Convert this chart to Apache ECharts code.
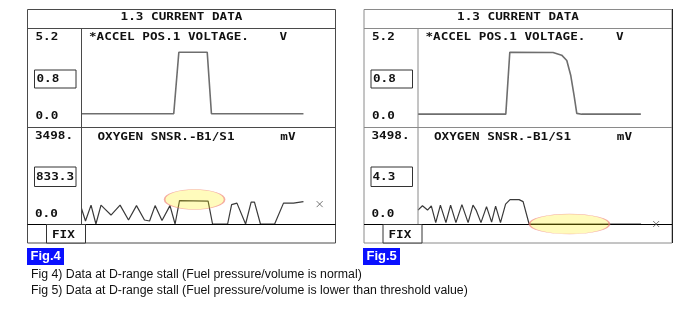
<!DOCTYPE html>
<html>
<head>
<meta charset="utf-8">
<script src="https://cdn.jsdelivr.net/npm/echarts@6/dist/echarts.min.js"></script>
<style>html,body{margin:0;padding:0;background:#fff;}#c{width:700px;height:315px;}</style>
</head>
<body>
<div id="c"></div>
<script>
// ---- data (time index on x, measured value on y) ----
const ACCEL_FIG4 = [[0,0.72],[41.6,0.72],[43.9,3.95],[56.7,3.95],[58.6,0.72],[100.1,0.72]];
const O2_FIG4 = [[0,560],[1.8,108],[4.3,685],[6.5,0],[8.8,685],[10.6,541],[13.3,325],[17.4,685],[21.2,144],[24.8,667],[28.4,144],[30.7,108],[33.2,667],[36.3,126],[39.9,667],[42.2,0],[44.2,847],[57.1,829],[59.1,0],[65.9,0],[67.7,703],[70.1,757],[74.0,0],[76.5,793],[78.0,793],[80.7,0],[87.1,0],[91.1,757],[95.6,757],[100.1,811]];
const ACCEL_FIG5 = [[0,0.70],[39.6,0.70],[41.4,3.95],[60.9,3.94],[64.8,3.80],[67.1,3.52],[68.9,2.73],[70.4,1.68],[71.6,0.74],[73.8,0.70],[100.5,0.70]];
const O2_FIG5 = [[0,505],[2,660],[4.3,505],[6,660],[8,50],[10.1,685],[12.6,50],[14.7,685],[17.1,50],[19.8,703],[22.6,50],[24.8,685],[26.2,505],[28.4,50],[30.9,631],[33.2,70],[35.0,649],[37.2,50],[39.5,721],[41.5,883],[45.6,883],[47.4,811],[50.1,0],[100.6,0]];
const HIGHLIGHT_FIG4 = [[51.0, 891]];
const HIGHLIGHT_FIG5 = [[68.3, 0]];
const CURSOR_FIG4 = [[107.4, 721]];
const CURSOR_FIG5 = [[107.4, 0]];
const ACCEL_RANGE = [0, 5.2];
const O2_RANGE = [0, 3498];
const ACCEL_TICKS = ['5.2', '0.0'];
const O2_TICKS = ['3498.', '0.0'];
const CURRENT_FIG4 = ['0.8', '833.3'];
const CURRENT_FIG5 = ['0.8', '4.3'];
const HEADER = '1.3 CURRENT DATA';
const PARAM1 = '*ACCEL POS.1 VOLTAGE.    V';
const PARAM2 = 'OXYGEN SNSR.-B1/S1      mV';
const FIG_LABELS = ['Fig.4', 'Fig.5'];
const CAPTIONS = ['Fig 4) Data at D-range stall (Fuel pressure/volume is normal)',
                  'Fig 5) Data at D-range stall (Fuel pressure/volume is lower than threshold value)'];

const chart = echarts.init(document.getElementById('c'));
const MONO = 'bold 11px "DejaVu Sans Mono", "Liberation Mono", monospace';
const SX = 1.15;

function mono(text, x, y, align) {
  return {type:'text', x:x, y:y, scaleX:SX, scaleY:0.95, z:10,
    style:{text:text, font:MONO, fill:'#111', textAlign:align||'left', textVerticalAlign:'middle'}};
}
function hline(x1,x2,y,color,w){return {type:'line', z:5, shape:{x1:x1,y1:y,x2:x2,y2:y}, style:{stroke:color,lineWidth:w||1}};}
function vline(x,y1,y2,color,w){return {type:'line', z:5, shape:{x1:x,y1:y1,x2:x,y2:y2}, style:{stroke:color,lineWidth:w||1}};}

function panel(ox, frame, current) {
  const els = [];
  els.push({type:'rect', z:5, shape:{x:27.5+ox, y:9.5, width:308, height:233.5}, style:{fill:'none', stroke:frame, lineWidth:1}});
  els.push(hline(27.5+ox, 335.5+ox, 28.5, frame));
  els.push(hline(27.5+ox, 335.5+ox, 127.5, frame));
  els.push(vline(81.5+ox, 28.5, 224, frame));
  els.push(hline(27.5+ox, 335.5+ox, 224.5, '#000'));
  els.push({type:'rect', z:5, shape:{x:46.5+ox, y:224.5, width:39, height:18.5}, style:{fill:'#fff', stroke:'#333', lineWidth:1}});
  els.push({type:'rect', z:5, shape:{x:34.5+ox, y:70, width:41.5, height:18}, style:{fill:'#fff', stroke:'#333', lineWidth:1}});
  els.push({type:'rect', z:5, shape:{x:34.5+ox, y:167, width:41.5, height:19.5}, style:{fill:'#fff', stroke:'#333', lineWidth:1}});
  els.push(mono(HEADER, 181.5+ox, 17.5, 'center'));
  els.push(mono(PARAM1, 89+ox, 37, 'left'));
  els.push(mono(PARAM2, 97.5+ox, 137.5, 'left'));
  els.push(mono(ACCEL_TICKS[0], 35.5+ox, 37.5));
  els.push(mono(current[0], 36.5+ox, 79.5));
  els.push(mono(ACCEL_TICKS[1], 35.5+ox, 116.5));
  els.push(mono(O2_TICKS[0], 35+ox, 136.5));
  els.push(mono(current[1], 36+ox, 177.5));
  els.push(mono(O2_TICKS[1], 35+ox, 214.5));
  els.push(mono('FIX', 52+ox, 235));
  return els;
}

const graphics = [].concat(
  panel(0, '#4a4a4a', CURRENT_FIG4),
  panel(336.5, '#8a8a8a', CURRENT_FIG5),
  [vline(672.5, 9, 243, '#222')],
  [
    {type:'rect', shape:{x:27, y:248, width:37, height:17}, style:{fill:'#0a10ff'}},
    {type:'text', x:30.5, y:256.5, style:{text:FIG_LABELS[0], font:'bold 13px "Liberation Sans", Arial, sans-serif', fill:'#fff', textVerticalAlign:'middle'}},
    {type:'rect', shape:{x:363, y:248, width:37, height:17}, style:{fill:'#0a10ff'}},
    {type:'text', x:366.5, y:256.5, style:{text:FIG_LABELS[1], font:'bold 13px "Liberation Sans", Arial, sans-serif', fill:'#fff', textVerticalAlign:'middle'}},
    {type:'text', x:31, y:274.5, style:{text:CAPTIONS[0], font:'12.3px "Liberation Sans", Arial, sans-serif', fill:'#111', textVerticalAlign:'middle'}},
    {type:'text', x:31, y:291, style:{text:CAPTIONS[1], font:'12.3px "Liberation Sans", Arial, sans-serif', fill:'#111', textVerticalAlign:'middle'}}
  ]
);

const grids = [
  {left:81.5, top:28.5, width:255, height:99},
  {left:81.5, top:127.5, width:255, height:96.5},
  {left:418, top:28.5, width:255, height:99},
  {left:418, top:127.5, width:255, height:96.5}
];
const xAxes = grids.map((g,i)=>({type:'value', gridIndex:i, min:0, max:115, show:false}));
const yAxes = grids.map((g,i)=>({type:'value', gridIndex:i, min:(i%2?O2_RANGE:ACCEL_RANGE)[0], max:(i%2?O2_RANGE:ACCEL_RANGE)[1], show:false}));

const ELLIPSE = 'path://M0,10 C0,4.477 8.954,0 20,0 C31.046,0 40,4.477 40,10 C40,15.523 31.046,20 20,20 C8.954,20 0,15.523 0,10 Z';
const CROSS = 'path://M0,0L10,10M10,0L0,10';

function lineSeries(data, idx, color, w) {
  return {type:'line', xAxisIndex:idx, yAxisIndex:idx, data:data, symbol:'none', z:3,
    lineStyle:{color:color, width:w}, silent:true, animation:false};
}
function hl(data, idx, size) {
  return {type:'scatter', xAxisIndex:idx, yAxisIndex:idx, data:data, symbol:ELLIPSE, symbolSize:size, z:8,
    itemStyle:{color:'rgba(255,240,0,0.33)', borderColor:'rgba(238,120,120,0.75)', borderWidth:1}, silent:true, animation:false};
}
function cur(data, idx) {
  return {type:'scatter', xAxisIndex:idx, yAxisIndex:idx, data:data, symbol:CROSS, symbolSize:6, z:8,
    itemStyle:{color:'none', borderColor:'#555', borderWidth:1}, silent:true, animation:false};
}

chart.setOption({
  animation:false,
  backgroundColor:'#fff',
  grid:grids,
  xAxis:xAxes,
  yAxis:yAxes,
  graphic:graphics,
  series:[
    lineSeries(ACCEL_FIG4, 0, '#6e6e6e', 1.6),
    lineSeries(O2_FIG4, 1, '#3a3a3a', 1.2),
    lineSeries(ACCEL_FIG5, 2, '#6e6e6e', 1.6),
    lineSeries(O2_FIG5, 3, '#3a3a3a', 1.2),
    hl(HIGHLIGHT_FIG4, 1, [60,20]),
    hl(HIGHLIGHT_FIG5, 3, [80,20]),
    cur(CURSOR_FIG4, 1),
    cur(CURSOR_FIG5, 3)
  ]
});
</script>
</body>
</html>
